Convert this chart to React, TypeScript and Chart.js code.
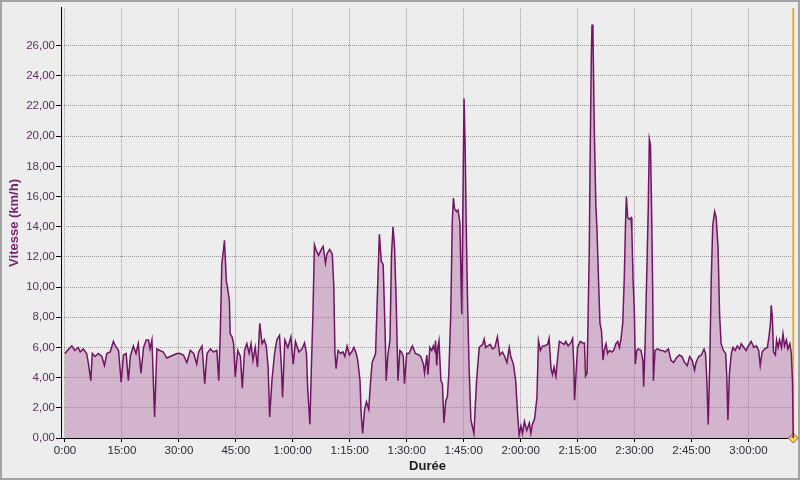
import React, { useEffect, useRef } from "react";
import { Chart, registerables } from "chart.js";

Chart.register(...registerables);

// Elapsed time (minutes) and speed (km/h)
const elapsedMinutes: number[] = [
  0, 0.3, 1.0, 1.8, 2.6, 3.5, 4.0, 4.8, 5.7, 6.2, 6.8, 7.2, 7.9, 8.8, 9.7, 10.4, 11.0, 11.9, 12.75, 13.3,
  14.1, 14.8, 15.4, 16.1, 16.7, 17.2, 18.0, 18.7, 19.3, 20.0, 20.7, 21.4, 22.0, 22.4, 22.9, 23.6, 24.2, 25.0, 25.9, 26.8,
  27.7, 28.6, 29.5, 30.3, 31.2, 32.1, 33.0, 33.9, 34.7, 35.2, 36.1, 36.8, 37.4, 38.3, 39.1, 40.0, 40.5, 40.9, 41.3, 41.8,
  42.0, 42.5, 42.9, 43.3, 43.5, 44.0, 44.4, 44.85, 45.5, 46.2, 46.7, 47.3, 47.9, 48.5, 49.0, 49.5, 50.1, 50.7, 51.3, 51.9,
  52.5, 53.0, 53.5, 53.9, 54.5, 55.2, 55.8, 56.5, 57.0, 57.3, 57.9, 58.7, 59.5, 60.1, 60.7, 61.6, 62.4, 63.1, 63.6, 63.9,
  64.5, 64.9, 65.3, 65.7, 66.2, 66.8, 67.5, 68.0, 68.6, 69.0, 69.7, 70.4, 70.8, 71.1, 71.4, 71.9, 72.6, 73.2, 73.7, 74.3,
  74.9, 75.5, 76.1, 76.7, 77.1, 77.7, 78.0, 78.4, 78.9, 79.4, 80.0, 80.5, 80.9, 81.8, 82.4, 82.8, 83.3, 83.8, 84.3, 84.6,
  85.0, 85.6, 86.0, 86.4, 86.8, 87.2, 87.7, 88.2, 88.6, 89.1, 89.4, 90.0, 90.6, 91.5, 92.3, 93.2, 93.7, 94.4, 94.7, 95.3,
  95.6, 96.1, 96.6, 97.0, 97.4, 97.6, 97.9, 98.2, 98.5, 99.0, 99.4, 99.8, 100.3, 100.7, 101.1, 101.6, 102.0, 102.3, 102.6, 103.1,
  103.5, 104.0, 104.3, 104.5, 104.9, 105.1, 105.4, 105.7, 106.0, 106.4, 106.9, 107.7, 108.4, 109.1, 110.0, 110.4, 110.8, 111.4, 112.0, 112.6,
  113.2, 113.9, 114.5, 115.2, 115.8, 116.4, 117.0, 117.4, 118.1, 118.7, 119.2, 119.6, 120.1, 120.5, 121.0, 121.6, 122.3, 122.7, 123.1, 123.7,
  124.3, 124.7, 125.2, 125.8, 126.2, 127.1, 127.5, 128.0, 128.4, 128.8, 129.3, 129.7, 130.2, 130.8, 131.5, 131.9, 132.5, 133.2, 133.7, 134.0,
  134.2, 134.6, 135.0, 135.7, 136.3, 136.8, 137.1, 137.5, 137.8, 138.1, 138.3, 138.6, 138.8, 139.05, 139.4, 139.8, 140.1, 140.5, 140.9, 141.3,
  141.7, 142.0, 142.5, 142.9, 143.4, 144.0, 144.5, 145.1, 145.6, 146.0, 146.4, 146.9, 147.3, 147.6, 147.85, 148.2, 148.6, 149.1, 149.3, 149.6,
  149.95, 150.2, 150.6, 151.0, 151.7, 152.2, 152.4, 152.8, 153.2, 153.6, 153.9, 154.2, 154.5, 154.8, 154.97, 155.4, 156.1, 156.8, 157.4, 158.05,
  158.9, 159.6, 160.3, 161.0, 161.8, 162.5, 163.2, 163.9, 164.5, 165.2, 165.8, 166.2, 166.9, 167.6, 168.3, 168.7, 169.05, 169.4, 169.8, 170.2,
  170.6, 171.1, 171.5, 172.0, 172.4, 172.8, 173.4, 174.0, 174.3, 174.6, 175.0, 175.5, 175.9, 176.5, 177.05, 177.7, 178.1, 178.8, 179.4, 180.0,
  180.7, 181.45, 182.07, 182.7, 183.1, 183.6, 184.3, 185.0, 185.4, 185.8, 186.0, 186.3, 186.6, 187.1, 187.4, 187.8, 188.2, 188.7, 189.1, 189.5,
  190.0, 190.4, 190.9, 191.3, 191.6, 191.8,
];

const speedKmh: number[] = [
  5.6, 5.7, 5.9, 6.1, 5.8, 6.0, 5.7, 5.9, 5.6, 4.9, 3.8, 5.6, 5.4, 5.6, 5.4, 4.8, 5.6, 5.7, 6.4, 6.1,
  5.8, 3.7, 5.5, 5.6, 3.8, 5.4, 6.1, 5.6, 6.25, 4.3, 6.0, 6.5, 6.5, 5.9, 6.5, 1.4, 5.9, 5.8, 5.7, 5.3,
  5.4, 5.5, 5.6, 5.6, 5.5, 5.0, 5.8, 5.6, 4.9, 5.7, 6.1, 3.6, 5.6, 5.9, 5.7, 5.8, 3.8, 6.9, 11.5, 12.6,
  13.1, 10.4, 9.8, 9.1, 6.9, 6.7, 6.25, 4.05, 5.8, 5.4, 3.3, 5.8, 6.25, 5.6, 6.25, 5.15, 6.0, 4.7, 7.6, 6.25,
  6.5, 6.1, 4.7, 1.4, 3.8, 5.6, 6.5, 6.8, 4.7, 2.7, 6.5, 6.0, 6.7, 4.9, 6.4, 5.7, 5.9, 6.3, 5.6, 3.4,
  0.9, 4.7, 8.2, 12.8, 12.4, 12.1, 12.5, 12.7, 11.6, 12.2, 12.5, 12.2, 10.0, 5.6, 4.6, 5.8, 5.6, 5.7, 5.4, 6.1,
  5.5, 5.7, 6.0, 5.6, 5.15, 3.8, 1.6, 0.3, 1.9, 2.4, 1.9, 3.8, 5.0, 5.6, 10.4, 13.5, 11.7, 11.5, 7.1, 3.8,
  5.4, 6.5, 12.2, 14.0, 12.6, 9.3, 3.8, 5.8, 5.7, 5.4, 3.6, 5.6, 5.6, 6.1, 5.6, 5.5, 5.4, 4.9, 4.3, 5.5,
  4.2, 6.0, 5.8, 6.1, 5.8, 6.45, 4.8, 6.0, 6.45, 3.8, 3.6, 1.0, 2.5, 2.7, 4.3, 8.2, 14.3, 15.9, 15.2, 15.0,
  15.1, 14.3, 10.4, 8.2, 18.0, 22.5, 19.1, 13.7, 9.3, 4.9, 1.2, 0.3, 3.8, 6.0, 6.2, 6.55, 6.0, 6.1, 6.2, 5.9,
  6.0, 6.7, 5.5, 5.7, 5.4, 5.0, 6.0, 5.4, 4.9, 3.8, 1.6, 0.2, 0.8, 0.3, 1.1, 0.5, 1.0, 0.3, 0.9, 1.3,
  2.7, 6.45, 5.8, 6.1, 6.1, 6.2, 6.6, 4.6, 4.2, 4.7, 4.1, 5.2, 6.4, 6.3, 6.2, 6.4, 6.1, 6.3, 6.6, 4.9,
  2.5, 4.3, 6.0, 6.4, 6.3, 6.3, 4.1, 4.3, 8.4, 12.8, 18.3, 24.9, 27.4, 26.9, 20.5, 15.5, 13.9, 10.6, 7.6, 7.1,
  5.15, 5.8, 6.25, 5.6, 5.8, 5.7, 5.8, 6.25, 6.4, 6.0, 6.5, 7.6, 10.6, 13.9, 16.0, 14.6, 14.5, 14.6, 13.7, 10.6,
  8.4, 4.9, 5.8, 5.9, 5.8, 5.15, 3.4, 6.3, 10.6, 15.0, 19.8, 19.4, 15.0, 9.5, 3.8, 5.8, 5.9, 5.8, 5.8, 5.7,
  5.9, 5.15, 5.0, 5.3, 5.5, 5.4, 5.0, 4.8, 5.4, 5.15, 4.5, 5.0, 5.4, 5.5, 5.9, 5.6, 3.8, 0.9, 4.7, 10.4,
  14.1, 15.0, 14.6, 12.6, 8.2, 6.25, 5.8, 5.6, 4.05, 1.2, 4.3, 5.6, 6.0, 5.8, 6.1, 5.9, 6.25, 6.0, 5.8, 6.1,
  6.4, 6.0, 6.1, 5.8, 4.8, 5.7, 5.9, 6.0, 6.7, 7.6, 8.8, 8.0, 5.7, 5.5, 6.5, 6.0, 6.5, 6.0, 6.9, 6.1,
  6.5, 5.9, 6.25, 5.6, 3.7, 0,
];

const xTickMinutes: number[] = [0, 15, 30, 45, 60, 75, 90, 105, 120, 135, 150, 165, 180];
const xTickLabels: string[] = [
  "0:00", "15:00", "30:00", "45:00", "1:00:00", "1:15:00", "1:30:00",
  "1:45:00", "2:00:00", "2:15:00", "2:30:00", "2:45:00", "3:00:00",
];
const yTickValues: number[] = [0, 2, 4, 6, 8, 10, 12, 14, 16, 18, 20, 22, 24, 26];
const yTickLabels: string[] = [
  "0,00", "2,00", "4,00", "6,00", "8,00", "10,00", "12,00",
  "14,00", "16,00", "18,00", "20,00", "22,00", "24,00", "26,00",
];
const endMarkerMinute = 191.8;
const xMinMinute = -1.05;
const xMaxMinute = 192;
const yMaxKmh = 28.5;

export default function App() {
  const canvasRef = useRef<HTMLCanvasElement | null>(null);

  useEffect(() => {
    const canvas = canvasRef.current;
    if (!canvas) return;
    const points = elapsedMinutes.map((t, i) => ({ x: t, y: speedKmh[i] }));
    const chart = new Chart(canvas, {
      type: "line",
      data: {
        datasets: [
          {
            data: points,
            borderColor: "#701463",
            borderWidth: 1.5,
            backgroundColor: "rgba(173,105,163,0.42)",
            fill: "origin",
            pointRadius: 0,
            tension: 0,
          },
          {
            data: [
              { x: endMarkerMinute, y: 0 },
              { x: endMarkerMinute, y: yMaxKmh },
            ],
            borderColor: "#dcae4e",
            borderWidth: 2,
            fill: false,
            pointRadius: [5, 0],
            pointStyle: "rectRot",
            pointBackgroundColor: "#f3d36b",
            pointBorderColor: "#8a6a20",
            pointBorderWidth: 1,
            clip: false,
          } as any,
        ],
      },
      options: {
        animation: false,
        responsive: false,
        devicePixelRatio: 1,
        events: [],
        layout: { padding: { left: 0, top: 5, right: 5, bottom: 0 } },
        plugins: { legend: { display: false }, tooltip: { enabled: false } },
        scales: {
          x: {
            type: "linear",
            min: xMinMinute,
            max: xMaxMinute,
            afterBuildTicks: (axis: any) => {
              axis.ticks = xTickMinutes.map((v) => ({ value: v }));
            },
            afterFit: (axis: any) => {
              axis.height = 42;
            },
            ticks: {
              autoSkip: false,
              maxRotation: 0,
              padding: 2,
              color: "#2b2b35",
              font: { family: "Liberation Sans", size: 11.5 },
              callback: (value: any) => xTickLabels[xTickMinutes.indexOf(Number(value))] ?? "",
            },
            grid: {
              color: "#979797",
              lineWidth: 1,
              tickLength: 4,
              tickColor: "#000000",
              tickWidth: 1,
              tickBorderDash: [],
            },
            border: { display: true, color: "#000000", width: 1, dash: [1, 1] },
            title: {
              display: true,
              text: "Durée",
              color: "#1e1e1e",
              font: { family: "Liberation Sans", size: 13, weight: "bold" },
              padding: { top: 0, bottom: 6 },
            },
          },
          y: {
            type: "linear",
            min: 0,
            max: yMaxKmh,
            afterBuildTicks: (axis: any) => {
              axis.ticks = yTickValues.map((v) => ({ value: v }));
            },
            afterFit: (axis: any) => {
              axis.width = 61;
            },
            ticks: {
              autoSkip: false,
              padding: 1,
              color: "#5e2e5e",
              font: { family: "Liberation Sans", size: 11.5 },
              callback: (value: any) => yTickLabels[yTickValues.indexOf(Number(value))] ?? "",
            },
            grid: {
              color: "#979797",
              lineWidth: 1,
              tickLength: 5,
              tickColor: "#000000",
              tickWidth: 1,
              tickBorderDash: [],
            },
            border: { display: true, color: "#000000", width: 1, dash: [1, 1] },
            title: {
              display: true,
              text: "Vitesse (km/h)",
              color: "#7a1f6c",
              font: { family: "Liberation Sans", size: 13, weight: "bold" },
              padding: { top: 7, bottom: 0 },
            },
          },
        },
      } as any,
    });
    return () => chart.destroy();
  }, []);

  return (
    <div
      style={{
        position: "fixed",
        left: 0,
        top: 0,
        width: 800,
        height: 480,
        background: "#ededed",
        overflow: "hidden",
      }}
    >
      <canvas ref={canvasRef} width={800} height={480} style={{ display: "block", width: 800, height: 480 }} />
      <div
        style={{
          position: "absolute",
          inset: 0,
          border: "2px solid #a2a2a2",
          boxSizing: "border-box",
          pointerEvents: "none",
        }}
      />
    </div>
  );
}
